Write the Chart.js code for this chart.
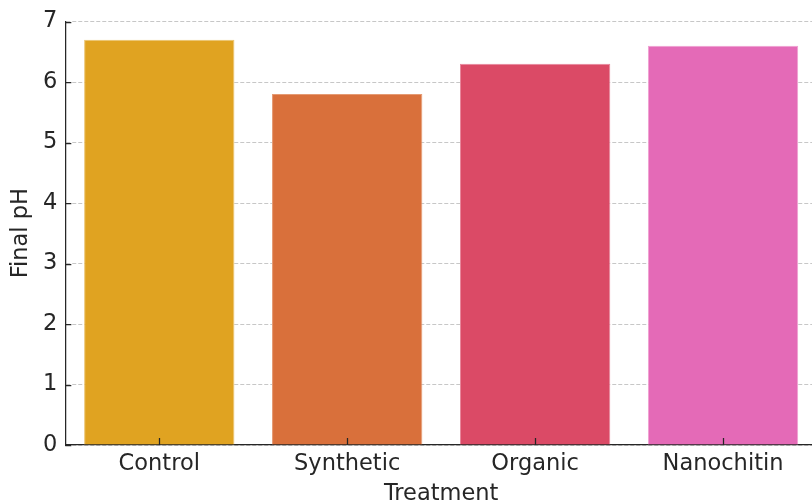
<!DOCTYPE html>
<html>
<head>
<meta charset="utf-8">
<script src="https://cdn.jsdelivr.net/npm/chart.js@4.4.0/dist/chart.umd.min.js"></script>
<style>
  html, body { margin: 0; padding: 0; background: #fff; overflow: hidden; }
  #wrap { width: 840px; height: 512px; position: relative; }
</style>
</head>
<body>
<div id="wrap"><canvas id="phChart"></canvas></div>
<script>
const treatments = ['Control', 'Synthetic', 'Organic', 'Nanochitin'];
const finalPH = [6.7, 5.8, 6.3, 6.6];
const barColors = ['#e0a321', '#d9703b', '#db4a66', '#e46ab7'];
const edgeColors = ['#ecc46e', '#e59a73', '#e8849a', '#ef9ed1'];
const yTicks = [0, 1, 2, 3, 4, 5, 6, 7];

const font = { family: 'DejaVu Sans', size: 22.5 };
const dark = '#262626';

// matplotlib style ticks pointing into the plot
const inwardTicks = {
  id: 'inwardTicks',
  afterDraw(chart) {
    const ctx = chart.ctx;
    const x = chart.scales.x, y = chart.scales.y;
    ctx.save();
    ctx.strokeStyle = dark;
    ctx.lineWidth = 1.25;
    ctx.beginPath();
    y.ticks.forEach((t, i) => {
      const py = Math.round(y.getPixelForTick(i)) + 0.5;
      ctx.moveTo(y.right, py);
      ctx.lineTo(y.right + 6, py);
    });
    x.ticks.forEach((t, i) => {
      const px = Math.round(x.getPixelForTick(i)) + 0.5;
      ctx.moveTo(px, x.top);
      ctx.lineTo(px, x.top - 7);
    });
    ctx.stroke();
    ctx.restore();
  }
};

new Chart(document.getElementById('phChart'), {
  type: 'bar',
  data: {
    labels: treatments,
    datasets: [{
      label: 'Final pH',
      data: finalPH,
      backgroundColor: barColors,
      borderColor: edgeColors,
      borderWidth: 1,
      barPercentage: 0.8,
      categoryPercentage: 1
    }]
  },
  options: {
    responsive: true,
    maintainAspectRatio: false,
    animation: false,
    layout: { padding: { top: 20, right: 23, left: 0, bottom: 4 } },
    plugins: {
      legend: { display: false },
      tooltip: { enabled: false }
    },
    scales: {
      x: {
        grid: { display: false, drawTicks: false },
        border: { display: true, color: dark, width: 1.25 },
        ticks: { color: dark, font: font, padding: 6 },
        title: { display: true, text: 'Treatment', color: dark, font: font, padding: { top: -3, bottom: 0 } }
      },
      y: {
        min: 0,
        max: 7,
        afterBuildTicks: axis => { axis.ticks = yTicks.map(v => ({ value: v })); },
        grid: { color: 'rgba(180,180,180,0.75)', lineWidth: 1, drawTicks: false },
        border: { display: true, color: dark, width: 1.25, dash: [4, 2] },
        ticks: { color: dark, font: font, padding: 8 },
        title: { display: true, text: 'Final pH', color: dark, font: font, padding: { top: 8, bottom: 0 } }
      }
    }
  },
  plugins: [inwardTicks]
});
</script>
</body>
</html>
